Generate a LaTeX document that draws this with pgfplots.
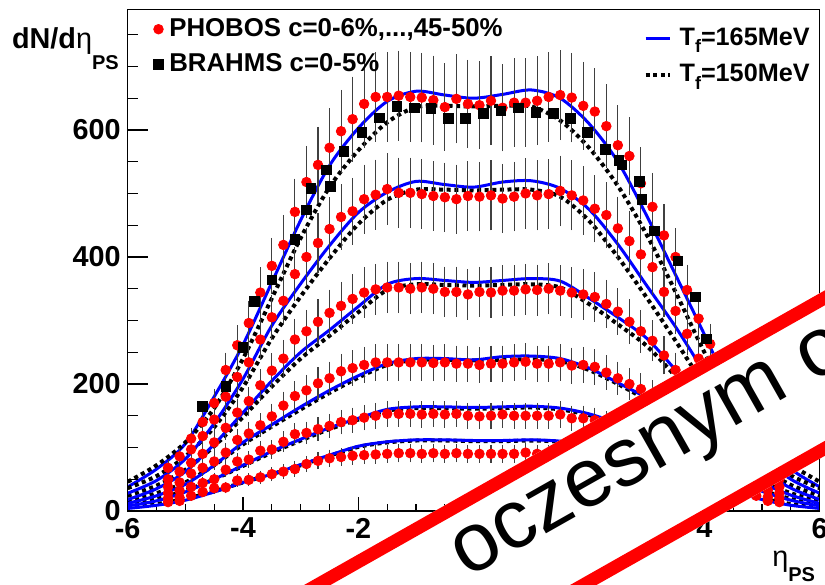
\documentclass[border=0pt]{standalone}
\usepackage{fontspec}
\setmainfont{Liberation Sans}
\usepackage{pgfplots}
\usepackage{pgfplotstable}
\pgfplotsset{compat=1.18}
\definecolor{rootblue}{RGB}{0,0,255}
\definecolor{rootred}{RGB}{255,0,0}
\newcommand{\sub}[1]{\raisebox{-0.55ex}{\fontsize{9}{9}\selectfont #1}}

\pgfplotstableread{
eta s1 s2 s3 s4 s5 s6
-5.3 68 50 38 28 20 14
-5.1 86 62 45 32 21 16
-4.9 114 97 76 59 38 24
-4.7 140 118 90 68 44 30
-4.5 170 144 108 78 50 36
-4.3 222 180 131 92 65 37
-4.1 261 211 155 112 78 48
-3.9 296 234 173 122 81 49
-3.7 344 270 198 135 95 53
-3.5 386 305 221 149 97 58
-3.3 419 331 240 166 109 62
-3.1 471 373 270 181 121 66
-2.9 518 400 283 190 123 74
-2.7 545 422 298 201 129 79
-2.5 572 444 312 209 134 83
-2.3 598 463 323 220 140 85
-2.1 617 472 334 225 143 87
-1.9 641 491 344 230 147 88
-1.7 652 498 349 234 150 89
-1.5 652 507 352 234 153 90
-1.3 654 501 352 234 153 91
-1.1 652 501 350 234 153 91
-0.9 651 499 352 234 152 90
-0.7 647 496 350 233 153 91
-0.5 636 494 345 234 152 90
-0.3 649 491 345 232 153 91
-0.1 641 496 341 232 150 90
0.1 639 495 345 230 149 90
0.3 646 497 344 232 150 90
0.5 635 492 347 232 152 90
0.7 643 495 347 234 150 90
0.9 643 500 349 235 150 92
1.1 646 497 348 232 150 90
1.3 652 499 350 232 150 89
1.5 655 504 347 234 152 90
1.7 651 497 344 229 146 88
1.9 638 489 341 230 146 87
2.1 629 476 337 227 143 86
2.3 606 466 326 218 138 84
2.5 576 445 314 209 133 82
2.7 559 425 298 200 128 78
2.9 516 404 283 192 122 74
3.1 479 384 268 182 118 67
3.3 434 345 245 166 108 62
3.5 400 315 222 150 98 58
3.7 348 279 200 136 93 54
3.9 303 240 175 122 82 49
4.1 263 208 155 112 76 47
4.3 218 178 132 93 64 38
4.5 172 146 110 80 51 36
4.7 138 116 90 68 44 30
4.9 112 95 74 58 37 24
5.1 85 64 46 33 22 16
5.3 66 50 38 28 20 14
}\phobos

\pgfplotstableread{
eta val
-4.70 165
-4.30 196
-4.00 258
-3.80 330
-3.50 364
-3.10 428
-2.90 474
-2.82 508
-2.55 537
-2.49 511
-2.25 566
-1.94 596
-1.64 619
-1.33 637
-1.03 635
-0.74 634
-0.44 618
-0.14 618
0.17 626
0.47 630
0.77 635
1.08 628
1.38 626
1.68 618
1.97 596
2.28 569
2.52 552
2.57 545
2.87 519
2.92 491
3.13 441
3.54 394
3.84 337
4.04 271
4.30 200
4.70 165
}\brahms

\pgfplotstableread{
eta b1 b2 b3 b4 b5 b6 d1 d2 d3 d4 d5 d6
-6.0 38 28 18 12 8 4 46 36 24 16 10 6
-5.5 66 48 35 24 16 9 72 55 40 28 19 11
-5.0 106 82 62 42 30 17 108 86 65 45 32 19
-4.5 180 138 105 72 50 30 162 132 102 72 50 31
-4.0 262 208 155 108 72 45 240 195 148 105 71 45
-3.5 360 292 205 136 94 58 335 272 196 133 92 58
-3.0 458 358 250 164 113 73 430 338 240 160 111 72
-2.5 544 418 285 190 131 88 510 398 276 186 129 87
-2.0 603 470 322 213 146 102 568 452 313 210 144 101
-1.5 645 502 357 232 160 109 612 490 348 230 158 108
-1.0 661 519 366 240 164 112 636 506 357 238 162 111
-0.5 655 514 363 240 164 112 638 506 356 238 162 111
0.0 650 510 360 238 163 111 637 505 355 237 161 110
0.5 656 518 363 243 164 111 638 506 356 238 162 110
1.0 663 520 366 244 165 112 637 506 357 239 163 111
1.5 650 508 362 240 162 110 615 495 352 236 160 109
2.0 610 475 335 225 153 104 572 457 326 222 151 103
2.5 550 420 305 202 138 92 512 400 294 200 136 92
3.0 465 355 272 178 120 78 435 336 260 175 118 78
3.5 372 290 222 148 99 62 345 268 212 148 98 63
4.0 278 218 168 115 76 48 250 198 160 116 76 49
4.5 182 145 112 78 52 32 166 135 108 80 53 33
5.0 110 86 65 45 31 18 110 88 68 48 33 20
5.5 66 50 36 25 17 9 73 56 41 28 19 11
6.0 38 28 18 12 8 4 46 36 24 16 10 6
}\model

\tikzset{
  bluecurve/.style={rootblue, line width=1.5pt, smooth},
  dotcurve/.style={black, line width=2pt, dash pattern=on 2pt off 1.8pt, smooth},
  redpts/.style={only marks, mark=*, mark size=2.4pt, rootred, mark options={draw=rootred, fill=rootred}},
}

\begin{document}
\begin{tikzpicture}
\useasboundingbox (-63.85pt,-36.5pt) rectangle (348.65pt,255.5pt);
% ---- axis 1: model curves, x ticks, right legend
\begin{axis}[
  at={(0pt,0pt)}, anchor=south west,
  scale only axis, width=346pt, height=250.85pt,
  xmin=-6, xmax=6, ymin=0, ymax=790,
  axis line style={line width=0.8pt},
  xtick={-6,-4,-2,0,2,4,6},
  xticklabels={-6,-4,-2,0,2,4,6},
  minor xtick={-5.5,-5,-4.5,-3.5,-3,-2.5,-1.5,-1,-0.5,0.5,1,1.5,2.5,3,3.5,4.5,5,5.5},
  ytick=\empty,
  xtick pos=left, tick align=inside,
  major tick length=7pt, minor tick length=3.5pt,
  tick style={black, line width=0.6pt},
  xticklabel style={font=\bfseries\fontsize{14.4}{14.4}\selectfont},
  legend style={at={(0.745,0.972)}, anchor=north west, draw=none, fill=none,
    inner sep=0pt, font=\bfseries\fontsize{12.6}{14}\selectfont, row sep=4pt,
    nodes={inner xsep=4pt}},
  legend cell align=left,
  legend image code/.code={\draw[#1] (0pt,0pt) -- (12pt,0pt);},
]
\addplot[bluecurve] table[x=eta,y=b1]{\model};
\addlegendentry{T\sub{f}=165MeV}
\addplot[dotcurve] table[x=eta,y=d1]{\model};
\addlegendentry{T\sub{f}=150MeV}
\addplot[forget plot, dotcurve] table[x=eta,y=d2]{\model};
\addplot[forget plot, dotcurve] table[x=eta,y=d3]{\model};
\addplot[forget plot, dotcurve] table[x=eta,y=d4]{\model};
\addplot[forget plot, dotcurve] table[x=eta,y=d5]{\model};
\addplot[forget plot, dotcurve] table[x=eta,y=d6]{\model};
\addplot[forget plot, bluecurve] table[x=eta,y=b2]{\model};
\addplot[forget plot, bluecurve] table[x=eta,y=b3]{\model};
\addplot[forget plot, bluecurve] table[x=eta,y=b4]{\model};
\addplot[forget plot, bluecurve] table[x=eta,y=b5]{\model};
\addplot[forget plot, bluecurve] table[x=eta,y=b6]{\model};
\end{axis}
% ---- axis 2: data points, y ticks, left legend
\begin{axis}[
  at={(0pt,0pt)}, anchor=south west,
  scale only axis, width=346pt, height=250.85pt,
  xmin=-6, xmax=6, ymin=0, ymax=790,
  axis line style={line width=0.8pt},
  xtick=\empty,
  ytick={0,200,400,600},
  yticklabels={0,200,400,600},
  minor ytick={50,100,150,250,300,350,450,500,550,650,700,750},
  ytick pos=left, tick align=inside,
  major tick length=10.4pt, minor tick length=5.2pt,
  tick style={black, line width=0.6pt},
  yticklabel style={font=\bfseries\fontsize{14.4}{14.4}\selectfont},
  legend style={at={(0.037,0.99)}, anchor=north west, draw=none, fill=none,
    inner sep=0pt, font=\bfseries\fontsize{12.9}{14}\selectfont, row sep=3pt,
    nodes={inner xsep=3pt}},
  legend cell align=left,
  legend image code/.code={\draw[#1] plot coordinates {(0pt,0pt)};},
  error bars/y dir=both,
  error bars/y fixed relative=0.1,
  error bars/error bar style={line width=0.55pt, black!75},
  error bars/error mark options={line width=0.55pt, black!75, mark size=1.7pt},
]
\addlegendimage{redpts}
\addlegendentry{PHOBOS c=0-6\%,...,45-50\%}
\addlegendimage{only marks, mark=square*, mark size=2.4pt, black}
\addlegendentry{BRAHMS c=0-5\%}
\addplot[forget plot, redpts] table[x=eta,y=s1]{\phobos};
\addplot[forget plot, redpts] table[x=eta,y=s2]{\phobos};
\addplot[forget plot, redpts] table[x=eta,y=s3]{\phobos};
\addplot[forget plot, redpts] table[x=eta,y=s4]{\phobos};
\addplot[forget plot, redpts] table[x=eta,y=s5]{\phobos};
\addplot[forget plot, redpts] table[x=eta,y=s6]{\phobos};
\addplot[forget plot, only marks, mark=square*, mark size=2.4pt, black, error bars/y dir=none] table[x=eta,y=val]{\brahms};
\end{axis}
% ---- axis titles
\node[anchor=base west, inner sep=0pt, font=\bfseries\fontsize{14.4}{14.4}\selectfont]
  at (-58pt,231.15pt) {dN/d{\mdseries η}\raisebox{-10.5pt}{\fontsize{10}{10}\selectfont PS}};
\node[anchor=base west, inner sep=0pt, font=\fontsize{14.4}{14.4}\selectfont]
  at (322.15pt,-27.85pt) {η};
\node[anchor=base west, inner sep=0pt, font=\bfseries\fontsize{10}{10}\selectfont]
  at (330.15pt,-35pt) {PS};
% ---- overlay banner
\begin{scope}
\clip (-63.85pt,-36.5pt) rectangle (348.65pt,255.5pt);
\begin{scope}[shift={(236.15pt,5.35pt)}, rotate=29.5]
\fill[white] (-400pt,-36pt) rectangle (400pt,36pt);
\fill[rootred] (-400pt,29.5pt) rectangle (400pt,36pt);
\fill[rootred] (-400pt,-36pt) rectangle (400pt,-29.5pt);
\node[transform shape, anchor=mid west, inner sep=0pt, font=\fontsize{41.5}{41.5}\selectfont] at (-77.3pt,1.4pt) {oczesnym o};
\end{scope}
\end{scope}
\end{tikzpicture}
\end{document}
